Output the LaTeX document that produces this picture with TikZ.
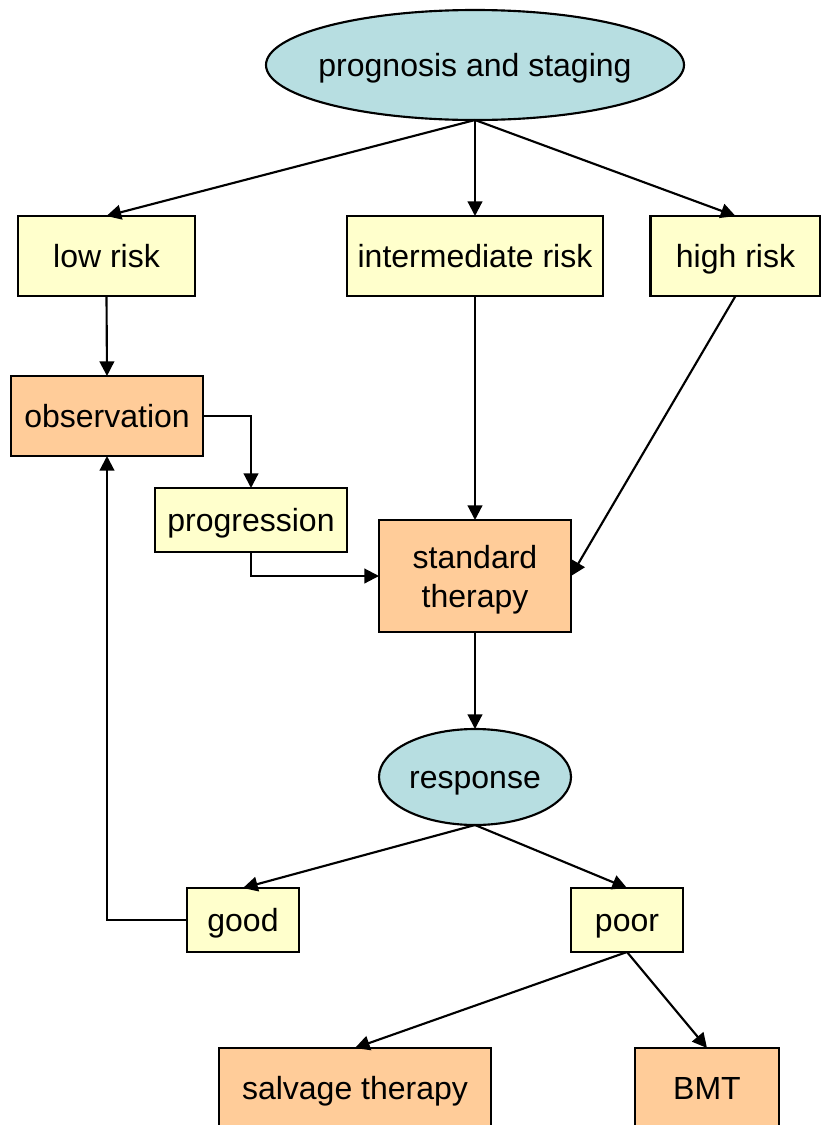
\documentclass[tikz,border=0pt]{standalone}
\usepackage{fontspec}
\setmainfont{Liberation Sans}
\usetikzlibrary{shapes.geometric,arrows.meta}
\definecolor{cyanfill}{HTML}{B7DEE1}
\definecolor{yellowfill}{HTML}{FFFFCC}
\definecolor{orangefill}{HTML}{FFCC99}
\tikzset{
  txt/.style={inner sep=0pt, outer sep=0pt, align=center,
    font=\fontsize{24}{29}\selectfont, text height=17.5pt, text depth=0pt},
  base/.style={draw=black, line width=1.6pt, inner sep=0pt, outer sep=0pt, txt},
  oval/.style={draw=black, line width=1.6pt, inner sep=0pt, outer sep=0pt,
    ellipse, fill=cyanfill},
  ybox/.style={base, rectangle, fill=yellowfill},
  obox/.style={base, rectangle, fill=orangefill},
  conn/.style={line width=1.6pt, -{Triangle[length=11pt,width=11pt]}},
}
\begin{document}
\begin{tikzpicture}[x=0.75pt, y=-0.75pt]
\clip (0,0) rectangle (821,1125);
\fill[white] (0,0) rectangle (821,1125);

% nodes
\node[oval, minimum width=313.5pt, minimum height=82.5pt,
  label={[txt]center:prognosis and staging}] (top) at (475,65) {};
\node[ybox, minimum width=132.75pt, minimum height=60pt] (low) at (106.5,256) {low risk};
\node[ybox, minimum width=192pt, minimum height=60pt] (mid) at (475,256) {intermediate risk};
\node[ybox, minimum width=127.5pt, minimum height=60pt] (high) at (735.5,256) {high risk};
\node[obox, minimum width=144pt, minimum height=60pt] (obs) at (107,416) {observation};
\node[ybox, minimum width=144pt, minimum height=48pt] (prog) at (251,520) {progression};
\node[obox, minimum width=144pt, minimum height=84pt] (std) at (475,576) {};
\node[txt, text height=, text depth=] (stdtext) at ([yshift=-3pt]std.center) {standard\\therapy};
\node[oval, minimum width=144pt, minimum height=72pt,
  label={[txt]center:response}] (resp) at (475,777) {};
\node[ybox, minimum width=84pt, minimum height=48pt] (good) at (243,920) {good};
\node[ybox, minimum width=84pt, minimum height=48pt] (poor) at (627,920) {poor};
\node[obox, minimum width=204pt, minimum height=60pt] (salv) at (355,1088) {salvage therapy};
\node[obox, minimum width=108pt, minimum height=60pt] (bmt) at (707,1088) {BMT};

% connectors
\draw[conn] (top.south) -- (low.north);
\draw[conn] (top.south) -- (mid.north);
\draw[conn] (top.south) -- (high.north);
\draw[conn] (low.south) -- (obs.north);
\draw[conn] (obs.east) -| (prog.north);
\draw[conn] (prog.south) |- (std.west);
\draw[conn] (mid.south) -- (std.north);
\draw[conn] (high.south) -- (std.east);
\draw[conn] (std.south) -- (resp.north);
\draw[conn] (resp.south) -- (good.north);
\draw[conn] (resp.south) -- (poor.north);
\draw[conn] (good.west) -| (obs.south);
\draw[conn] (poor.south) -- (salv.north);
\draw[conn] (poor.south) -- (bmt.north);
\end{tikzpicture}
\end{document}
